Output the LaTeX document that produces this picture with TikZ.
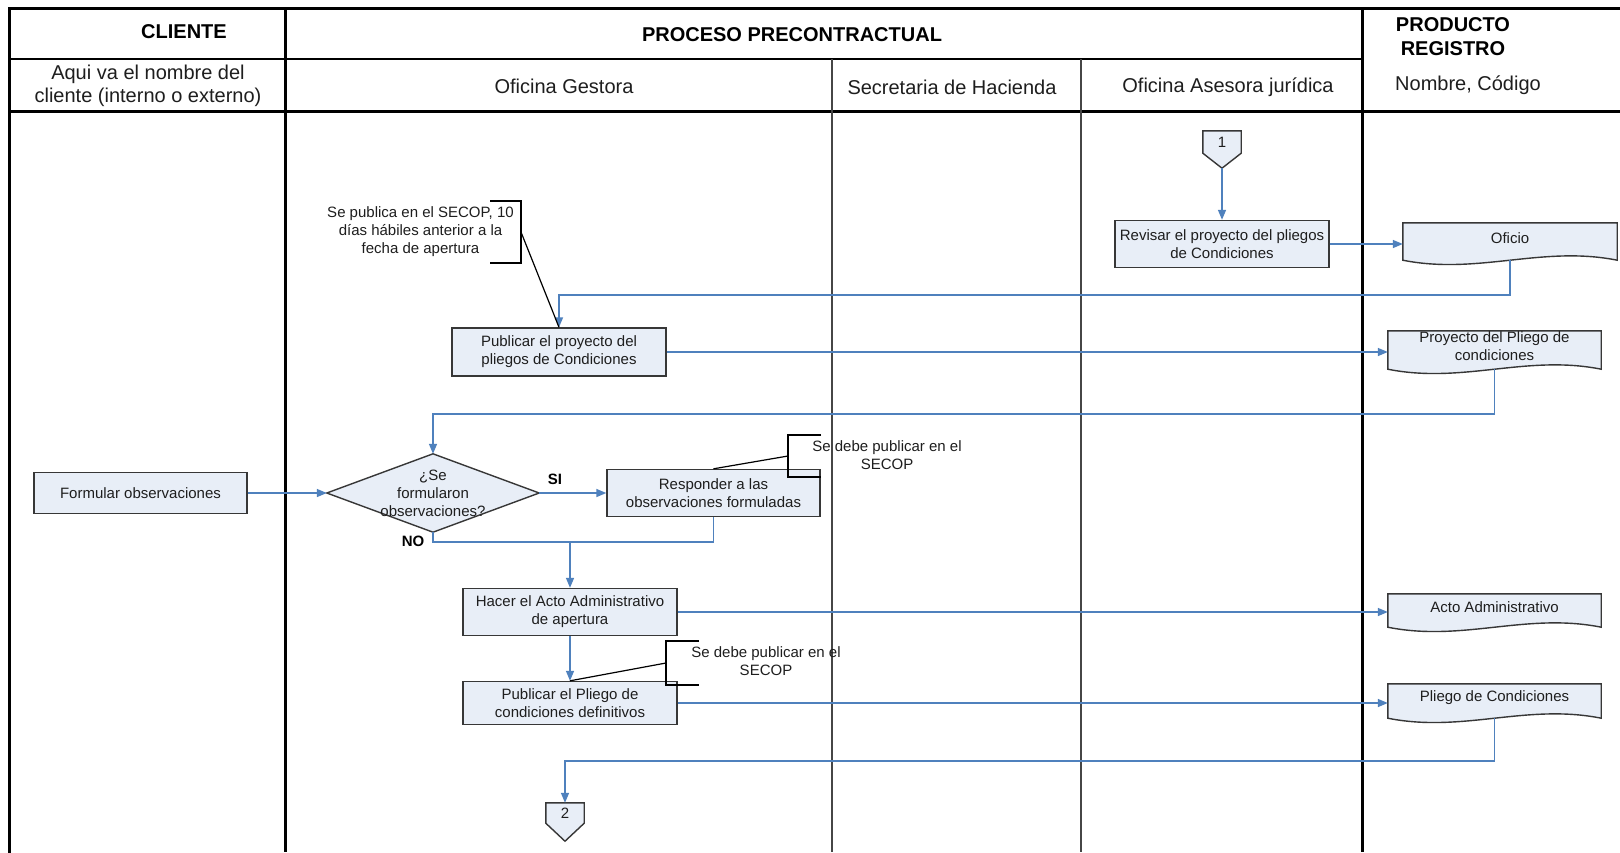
\documentclass[tikz,border=0pt]{standalone}
\usepackage{fontspec}
\setmainfont{Liberation Sans}
\usetikzlibrary{arrows.meta,backgrounds,calc}
\definecolor{flowblue}{RGB}{79,129,189}
\definecolor{boxfill}{RGB}{232,238,247}
\definecolor{boxline}{RGB}{55,55,55}
\definecolor{lanegray}{RGB}{70,70,70}
\definecolor{inktext}{RGB}{30,30,30}

\tikzset{
  hdr/.style={font=\fontsize{20}{23.5}\selectfont, align=center, inner sep=0, text=inktext},
  hdrbold/.style={font=\fontsize{20}{24}\selectfont\bfseries, align=center, inner sep=0, text=black},
  stepbox/.style={draw=boxline, line width=1.4pt, fill=boxfill, minimum width=214pt,
    minimum height=47pt, inner sep=0, align=center, font=\fontsize{15}{18}\selectfont, text=inktext},
  docnode/.style={minimum width=213pt, inner sep=0, align=center,
    font=\fontsize{15}{18}\selectfont, text=inktext},
  docshape/.style={draw=boxline, line width=1.4pt, fill=boxfill},
  notetext/.style={inner sep=0, align=center, font=\fontsize{15}{18}\selectfont, text=inktext},
  conntext/.style={inner sep=0, align=center, font=\fontsize{15}{17}\selectfont, text=inktext,
    minimum width=38pt},
  flow/.style={draw=flowblue, line width=1.5pt, -{Triangle[length=10pt,width=8pt]}},
  flowline/.style={draw=flowblue, line width=1.5pt},
  noteline/.style={draw=black, line width=1.2pt},
  lbl/.style={font=\fontsize{15}{18}\selectfont\bfseries, inner sep=0, text=black},
  thickrule/.style={line width=3pt, black},
  midrule/.style={line width=2pt, black},
  thinrule/.style={line width=1.6pt, lanegray},
}

\begin{document}
\begin{tikzpicture}[x=1pt,y=-1pt]
\useasboundingbox (0,0) rectangle (1620,852);
\begin{scope}[on background layer]
  \fill[white] (0,0) rectangle (1620,852);
\end{scope}

% swimlane grid
\draw[thickrule, line cap=rect] (9,852) -- (9,8) -- (1620,8);
\draw[thickrule] (285,8) -- (285,852);
\draw[thickrule] (1362,8) -- (1362,852);
\draw[midrule] (9,59) -- (1362,59);
\draw[thickrule] (9,111) -- (1620,111);
\draw[thinrule] (832,59) -- (832,852);
\draw[thinrule] (1081,59) -- (1081,852);

% header texts
\node[hdrbold] (hcliente) at (184,32) {CLIENTE};
\node[hdrbold] (hproceso) at (792,35) {PROCESO PRECONTRACTUAL};
\node[hdrbold] (hproducto) at (1453,37) {PRODUCTO\\REGISTRO};
\node[hdr] (hcliente2) at (148,86) {Aqui va el nombre del\\cliente (interno o externo)};
\node[hdr] (hgestora) at (564,86) {Oficina Gestora};
\node[hdr] (hhacienda) at (952,87) {Secretaria de Hacienda};
\node[hdr] (hjuridica) at (1228,87) {Oficina Asesora jurídica};
\node[hdr] (hnombre) at (1468,85) {Nombre, Código};

% process steps
\node[stepbox] (revisar) at (1222,244) {Revisar el proyecto del pliegos\\de Condiciones};
\node[stepbox, minimum height=48pt] (publicar1) at (559,352) {Publicar el proyecto del\\pliegos de Condiciones};
\node[stepbox, minimum width=213pt, minimum height=41pt] (formular) at (140.5,493) {Formular observaciones};
\node[stepbox, minimum width=213pt] (responder) at (713.5,493) {Responder a las\\observaciones formuladas};
\node[stepbox] (hacer) at (570,612) {Hacer el Acto Administrativo\\de apertura};
\node[stepbox, minimum height=43pt] (publicar2) at (570,703) {Publicar el Pliego de\\condiciones definitivos};

% decision
\node[notetext, minimum width=212pt, minimum height=78pt] (decide) at (433,493) {¿Se\\formularon\\observaciones?};

% documents
\node[docnode, minimum width=214pt, minimum height=37pt] (oficio) at (1510,238) {Oficio};
\node[docnode, minimum height=38pt] (proyecto) at (1494.5,346.5) {Proyecto del Pliego de\\condiciones};
\node[docnode, minimum height=33pt] (acto) at (1494.5,607) {Acto Administrativo};
\node[docnode, minimum height=34pt] (pliego) at (1494.5,697.5) {Pliego de Condiciones};

% off-page connectors
\node[conntext, minimum height=22pt] (conn1) at (1222,142) {1};
\node[conntext, minimum height=20pt] (conn2) at (565,813) {2};

% shapes behind the texts
\begin{scope}[on background layer]
  \draw[docshape] (decide.north) -- (decide.east) -- (decide.south) -- (decide.west) -- cycle;
  \foreach \d in {oficio,proyecto,acto,pliego}{
    \draw[docshape] ([yshift=-3.5pt]\d.north west) -- ([yshift=-3.5pt]\d.north east)
      -- ([yshift=-3.5pt]\d.south east) .. controls +(-75,-15) and +(75,15) .. ([yshift=-3.5pt]\d.south west) -- cycle;
  }
  \draw[docshape] (conn1.north west) -- (conn1.north east) -- (conn1.south east)
    -- ([yshift=-15pt]conn1.south) -- (conn1.south west) -- cycle;
  \draw[docshape] (conn2.north west) -- (conn2.north east) -- (conn2.south east)
    -- ([yshift=-18pt]conn2.south) -- (conn2.south west) -- cycle;
\end{scope}

% flow connectors
\draw[flow] ([yshift=-15pt]conn1.south) -- (revisar.north);
\draw[flow] (revisar.east) -- (revisar.east -| oficio.west);
\draw[flow] ([yshift=-3.5pt]oficio.south) -- ++(0,35) -| (publicar1.north);
\draw[flow] (publicar1.east) -- (publicar1.east -| proyecto.west);
\draw[flow] ([yshift=-3.5pt]proyecto.south) -- ++(0,45) -| (decide.north);
\draw[flow] (formular.east) -- (decide.west);
\draw[flow] (decide.east) -- (responder.west);
\draw[flowline] (decide.south) -- ++(0,10) coordinate (nobranch) -| (responder.south);
\coordinate (merge) at (hacer.north |- nobranch);
\draw[flow] (merge) -- (hacer.north);
\draw[flow] (hacer.east) -- (hacer.east -| acto.west);
\draw[flow] (hacer.south) -- (publicar2.north);
\draw[flow] (publicar2.east) -- (publicar2.east -| pliego.west);
\draw[flow] ([yshift=-3.5pt]pliego.south) -- ++(0,43) -| (conn2.north);

% branch labels
\node[lbl] (si) at (555,479) {SI};
\node[lbl] (no) at (413,541) {NO};

% annotations
\node[notetext] (note1) at (420.5,231.5) {Se publica en el SECOP, 10\\días hábiles anterior a la\\fecha de apertura};
\coordinate (note1pin) at (521,232);
\draw[noteline] (490,201) -- (521,201) -- (521,263) -- (490,263);
\draw[noteline] (note1pin) -- (publicar1.north);

\node[notetext] (note2) at (887,455.5) {Se debe publicar en el\\SECOP};
\coordinate (note2pin) at (788,456);
\draw[noteline] (821,435) -- (788,435) -- (788,477) -- (821,477);
\draw[noteline] (note2pin) -- (responder.north);

\node[notetext] (note3) at (766,661.5) {Se debe publicar en el\\SECOP};
\coordinate (note3pin) at (666,663);
\draw[noteline] (699,641) -- (666,641) -- (666,685) -- (699,685);
\draw[noteline] (note3pin) -- (publicar2.north);
\end{tikzpicture}
\end{document}
